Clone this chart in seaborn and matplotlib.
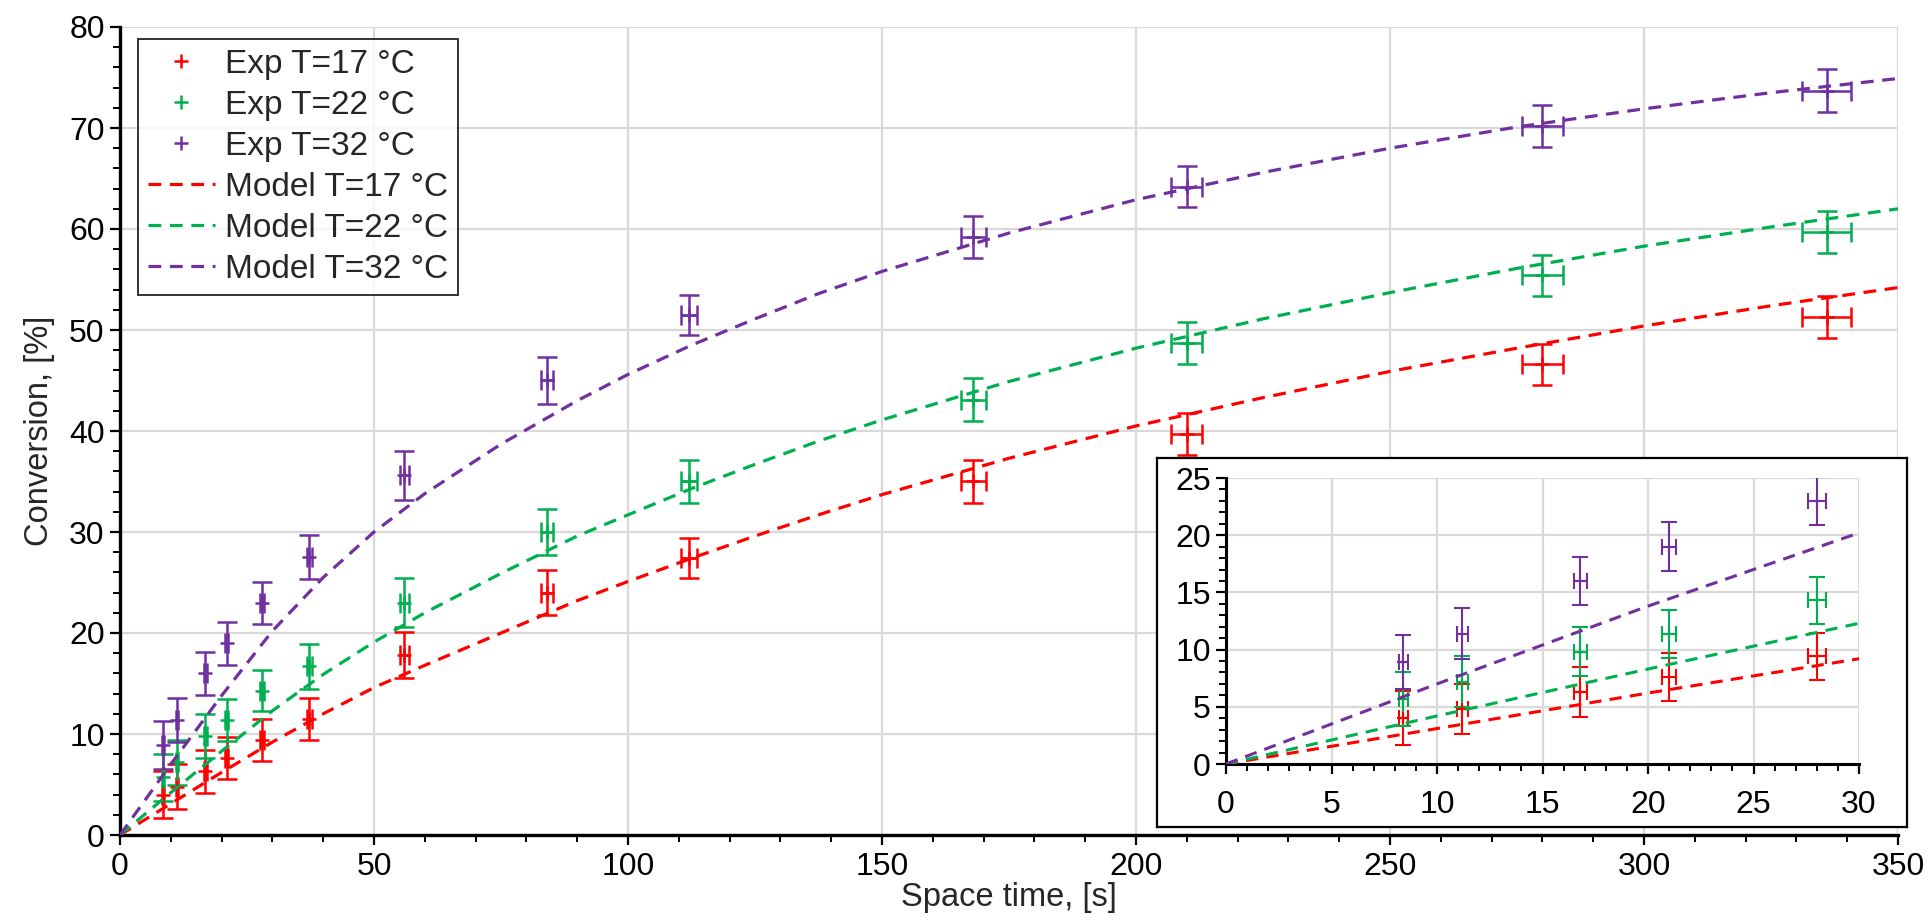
import numpy as np
import pandas as pd
import matplotlib
matplotlib.use("Agg")
import matplotlib.pyplot as plt
from matplotlib.ticker import MultipleLocator
import seaborn as sns

# ---------------- data ----------------
series_names = ["T=17 °C", "T=22 °C", "T=32 °C"]
colors = ["#FF0000", "#00B050", "#7030A0"]

exp_t = [8.4, 11.2, 16.8, 21.0, 28.0, 37.3, 56.0, 84.0, 112.0, 168.0, 210.0, 280.0, 336.0]
exp_t_err = [0.22, 0.25, 0.3, 0.35, 0.42, 0.55, 0.81, 1.2, 1.6, 2.4, 3.05, 4.1, 4.8]

exp_17 = [4.0, 4.8, 6.3, 7.6, 9.4, 11.5, 17.8, 24.0, 27.4, 35.0, 39.7, 46.6, 51.3]
exp_22 = [5.7, 7.2, 9.8, 11.4, 14.3, 16.7, 23.0, 30.0, 35.0, 43.1, 48.7, 55.4, 59.7]
exp_32 = [8.9, 11.4, 16.0, 19.0, 23.0, 27.5, 35.6, 45.0, 51.5, 59.2, 64.2, 70.2, 73.7]

err_17 = [2.35, 2.2, 2.15, 2.1, 2.07, 2.1, 2.3, 2.2, 2.0, 2.1, 2.05, 2.06, 2.1]
err_22 = [2.35, 2.2, 2.15, 2.1, 2.07, 2.2, 2.4, 2.3, 2.1, 2.1, 2.05, 2.06, 2.1]
err_32 = [2.35, 2.2, 2.13, 2.13, 2.07, 2.2, 2.4, 2.3, 2.0, 2.1, 2.03, 2.06, 2.13]

model_t = [0, 10, 20, 30, 40, 50, 60, 75, 90, 100, 112.5, 125, 137.5, 150, 175, 200, 225, 250, 275, 300, 325, 350]
model_17 = [0, 3.1, 6.2, 9.2, 12.0, 14.6, 16.8, 20.0, 23.2, 25.1, 27.4, 29.6, 31.7, 33.7, 37.3, 40.5, 43.3, 45.9, 48.2, 50.4, 52.4, 54.2]
model_22 = [0, 4.2, 8.3, 12.3, 15.9, 19.1, 22.0, 25.9, 29.6, 31.7, 34.3, 36.7, 39.0, 41.1, 44.9, 48.2, 51.1, 53.7, 56.1, 58.3, 60.2, 62.0]
model_32 = [0, 7.0, 13.8, 20.2, 25.5, 30.0, 33.8, 38.7, 43.0, 45.6, 48.5, 51.1, 53.6, 55.8, 59.6, 62.9, 65.6, 68.0, 70.1, 71.9, 73.5, 74.9]

exp_vals = [exp_17, exp_22, exp_32]
exp_errs = [err_17, err_22, err_32]
model_vals = [model_17, model_22, model_32]

x_ticks_main = [0, 50, 100, 150, 200, 250, 300, 350]
y_ticks_main = [0, 10, 20, 30, 40, 50, 60, 70, 80]
x_ticks_inset = [0, 5, 10, 15, 20, 25, 30]
y_ticks_inset = [0, 5, 10, 15, 20, 25]

# ---------------- style ----------------
sns.set_style("white")
plt.rcParams["font.family"] = ["Liberation Sans", "DejaVu Sans"]
FS_TICK = 23
FS_LAB = 23.5
FS_LEG = 24

DPI = 100
fig = plt.figure(figsize=(19.30, 9.21), dpi=DPI)

ax = fig.add_axes([120 / 1930, 86 / 921, 1778 / 1930, 808 / 921])

dash = (0, (4, 2.7))
grid_c = "#D9D9D9"


def style_axes(a, xmaj, xmin, ymaj, ymin, fs, spw, pad):
    a.xaxis.set_major_locator(MultipleLocator(xmaj))
    a.xaxis.set_minor_locator(MultipleLocator(xmin))
    a.yaxis.set_major_locator(MultipleLocator(ymaj))
    a.yaxis.set_minor_locator(MultipleLocator(ymin))
    a.grid(True, which="major", color=grid_c, linewidth=1.6, zorder=0)
    a.set_axisbelow(True)
    for s in ["top", "right"]:
        a.spines[s].set_visible(False)
    for s in ["left", "bottom"]:
        a.spines[s].set_color("black")
        a.spines[s].set_linewidth(spw)
    a.tick_params(which="major", direction="out", length=7, width=1.6, colors="black",
                  labelsize=fs, left=True, bottom=True, pad=pad)
    a.tick_params(which="minor", direction="out", length=5, width=1.4, colors="black",
                  left=True, bottom=True)


# main plot
exp_handles = []
for name, c, yv, ye in zip(series_names, colors, exp_vals, exp_errs):
    eb = ax.errorbar(exp_t, yv, xerr=exp_t_err, yerr=ye, fmt="+", color=c, ms=10, mew=1.8,
                     elinewidth=1.8, capsize=7, capthick=1.8, zorder=3)
    exp_handles.append(eb[0])

model_handles = []
for name, c, mv in zip(series_names, colors, model_vals):
    sns.lineplot(x=model_t, y=mv, color=c, ax=ax, linewidth=2.3, linestyle=dash, zorder=4)
    model_handles.append(ax.get_lines()[-1])

ax.set_xlim(0, 350)
ax.set_ylim(0, 80)
style_axes(ax, 50, 10, 10, 2, FS_TICK, 2.4, 4)
ax.set_xticks(x_ticks_main)
ax.set_yticks(y_ticks_main)
ax.tick_params(axis="x", which="major", pad=5)
ax.set_xlabel("Space time, [s]", fontsize=FS_LAB, labelpad=0)
ax.set_ylabel("Conversion, [%]", fontsize=FS_LAB, labelpad=10)

labels = ["Exp " + n for n in series_names] + ["Model " + n for n in series_names]
leg = ax.legend(exp_handles + model_handles, labels, loc="upper left",
                bbox_to_anchor=(18 / 1778, 1 - 12 / 808), fontsize=FS_LEG, frameon=True,
                fancybox=False, borderpad=0.3, labelspacing=0.3, handlelength=2.0,
                handletextpad=0.3, borderaxespad=0)
leg.get_frame().set_edgecolor("black")
leg.get_frame().set_linewidth(1.4)

# inset frame box
box = fig.add_axes([1157 / 1930, 94 / 921, 750 / 1930, 369 / 921])
box.set_xticks([])
box.set_yticks([])
box.set_facecolor("white")
for s in box.spines.values():
    s.set_color("black")
    s.set_linewidth(1.6)
box.set_zorder(5)

axi = fig.add_axes([1226 / 1930, 157 / 921, 633 / 1930, 286 / 921])
axi.set_zorder(6)
axi.set_facecolor("white")
for name, c, yv, ye in zip(series_names, colors, exp_vals, exp_errs):
    axi.errorbar(exp_t, yv, xerr=exp_t_err, yerr=ye, fmt="+", color=c, ms=8, mew=1.5,
                 elinewidth=1.5, capsize=6, capthick=1.5, zorder=3)
for name, c, mv in zip(series_names, colors, model_vals):
    sns.lineplot(x=model_t, y=mv, color=c, ax=axi, linewidth=2.2, linestyle=dash, zorder=4)
axi.set_xlim(0, 30)
axi.set_ylim(0, 25)
style_axes(axi, 5, 1, 5, 1, FS_TICK, 2.2, 4)
axi.set_xticks(x_ticks_inset)
axi.set_yticks(y_ticks_inset)
axi.tick_params(axis="x", which="major", pad=12)
axi.set_xlabel("")
axi.set_ylabel("")

fig.savefig("out.png", dpi=DPI)
